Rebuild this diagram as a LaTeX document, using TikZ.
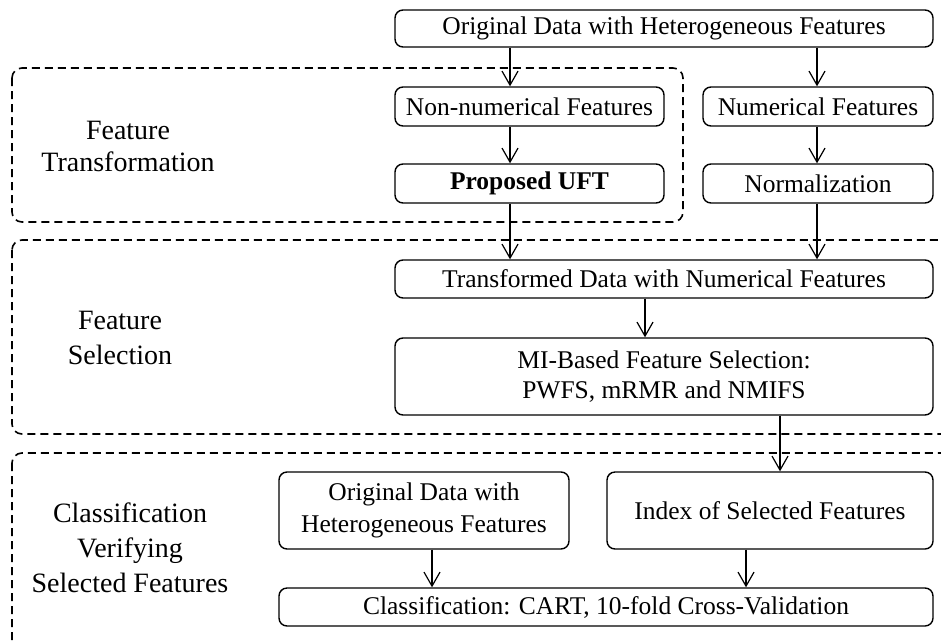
\documentclass[tikz,border=0pt]{standalone}
\usepackage{fontspec}
\setmainfont{Liberation Serif}
\usetikzlibrary{arrows.meta}
\begin{document}
\begin{tikzpicture}[x=1pt,y=-1pt,
 box/.style={draw, line width=1.4pt, rounded corners=8pt, inner sep=0pt, align=center, font=\fontsize{25.5}{32}\selectfont},
 lbl/.style={align=center, font=\fontsize{28}{35}\selectfont},
 grp/.style={draw, line width=1.6pt, dash pattern=on 8pt off 5pt, rounded corners=10pt},
 arr/.style={-{Straight Barb[length=14pt,width=16pt]}, line width=1.2pt}]
\useasboundingbox (0,0) rectangle (941,643);
\clip (0,0) rectangle (941,643);
% groups
\draw[grp] (12,68) rectangle (683,222);
\draw[grp] (12,240) rectangle (975,434);
\draw[grp] (12,453) rectangle (975,690);
% labels
\node[lbl, font=\fontsize{28}{32}\selectfont] (ft) at (128,146) {Feature\\Transformation};
\node[lbl] (fs) at (120,338) {Feature\\Selection};
\node[lbl] (cv) at (130,548) {Classification\\Verifying\\Selected Features};
% boxes
\node[box, minimum width=538pt, minimum height=37pt] (orig) at (664,28.5) {Original Data with Heterogeneous Features};
\node[box, minimum width=269pt, minimum height=39pt] (nonnum) at (529.5,106.5) {Non-numerical Features};
\node[box, minimum width=230pt, minimum height=39pt] (num) at (818,106.5) {Numerical Features};
\node[box, minimum width=269pt, minimum height=39pt] (uft) at (529.5,183.5) {\textbf{Proposed UFT}};
\node[box, minimum width=230pt, minimum height=39pt] (norm) at (818,183.5) {Normalization};
\node[box, minimum width=538pt, minimum height=38pt] (trans) at (664,279) {Transformed Data with Numerical Features};
\node[box, minimum width=538pt, minimum height=77pt, font=\fontsize{25.5}{30}\selectfont] (mi) at (664,376.5) {MI-Based Feature Selection:\\PWFS, mRMR and NMIFS};
\node[box, minimum width=290pt, minimum height=77pt] (orig2) at (424,510.5) {Original Data with\\Heterogeneous Features};
\node[box, minimum width=326pt, minimum height=77pt] (index) at (770,510.5) {Index of Selected Features};
\node[box, minimum width=654pt, minimum height=38pt] (class) at (606,607) {Classification: CART, 10-fold Cross-Validation};
% arrows
\draw[arr] (510,0 |- orig.south) -- (510,0 |- nonnum.north);
\draw[arr] (817,0 |- orig.south) -- (817,0 |- num.north);
\draw[arr] (510,0 |- nonnum.south) -- (510,0 |- uft.north);
\draw[arr] (817,0 |- num.south) -- (817,0 |- norm.north);
\draw[arr] (510,0 |- uft.south) -- (510,0 |- trans.north);
\draw[arr] (817,0 |- norm.south) -- (817,0 |- trans.north);
\draw[arr] (645,0 |- trans.south) -- (645,0 |- mi.north);
\draw[arr] (780,0 |- mi.south) -- (780,0 |- index.north);
\draw[arr] (432,0 |- orig2.south) -- (432,0 |- class.north);
\draw[arr] (746,0 |- index.south) -- (746,0 |- class.north);
\end{tikzpicture}
\end{document}
